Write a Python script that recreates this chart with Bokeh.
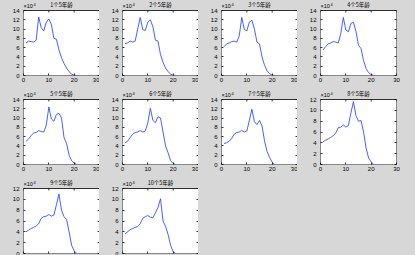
import math
from bokeh.plotting import figure
from bokeh.models import LinearAxis, Label, Range1d, FixedTicker, CustomJSTickFormatter
from bokeh.layouts import column, row
from bokeh.embed import file_html
from bokeh.resources import INLINE

# ---- data ----
x = list(range(1, 22))
s1 = [7.0, 7.4, 7.3, 7.2, 7.6, 12.6, 10.3, 9.6, 11.5, 12.2, 11.0, 8.0, 7.8, 5.5, 3.8, 2.6, 1.6, 0.8, 0.3, 0.05, 0.0]
s2 = [6.9, 7.0, 7.4, 7.2, 7.4, 10.0, 12.5, 9.9, 9.7, 11.5, 12.0, 10.5, 7.6, 7.4, 4.5, 2.8, 1.6, 0.8, 0.3, 0.05, 0.0]
s3 = [6.2, 6.8, 7.0, 7.3, 7.4, 7.2, 8.5, 12.5, 9.9, 9.6, 11.5, 11.9, 10.0, 7.2, 6.8, 4.0, 2.2, 1.0, 0.4, 0.1, 0.0]
s4 = [5.5, 6.2, 6.8, 7.0, 7.3, 7.2, 7.0, 9.0, 12.5, 9.8, 9.4, 11.2, 11.5, 9.5, 6.5, 5.8, 3.2, 1.5, 0.6, 0.2, 0.0]
s5 = [5.0, 5.5, 6.2, 6.8, 6.9, 7.3, 7.1, 7.0, 8.5, 12.4, 9.8, 9.3, 10.8, 11.0, 10.0, 5.8, 4.5, 2.0, 0.8, 0.3, 0.0]
s6 = [4.7, 5.0, 5.8, 6.5, 6.9, 7.0, 7.3, 7.0, 7.2, 9.0, 12.1, 9.5, 9.0, 10.3, 10.0, 7.0, 4.0, 2.5, 0.8, 0.2, 0.0]
s7 = [4.5, 4.7, 5.0, 5.6, 6.5, 6.9, 7.0, 7.3, 7.0, 7.2, 9.5, 11.9, 9.2, 8.6, 9.5, 8.3, 5.0, 2.8, 1.5, 0.5, 0.0]
s8 = [4.2, 4.5, 4.7, 5.0, 5.3, 5.8, 6.8, 6.9, 7.3, 6.9, 7.2, 9.5, 11.6, 9.0, 8.0, 8.1, 6.0, 3.0, 1.2, 0.5, 0.0]
s9 = [4.0, 4.3, 4.6, 4.8, 5.1, 5.5, 6.5, 6.8, 6.9, 7.2, 6.9, 7.1, 9.0, 11.0, 8.0, 6.8, 6.3, 4.0, 1.5, 0.5, 0.0]
s10 = [3.6, 4.0, 4.4, 4.6, 4.8, 5.0, 5.5, 6.5, 6.8, 7.0, 6.7, 6.6, 7.5, 8.5, 10.1, 6.0, 5.0, 3.5, 1.5, 0.3, 0.0]
series = [s1, s2, s3, s4, s5, s6, s7, s8, s9, s10]
titles = ["1个5年龄", "2个5年龄", "3个5年龄", "4个5年龄", "5个5年龄",
          "6个5年龄", "7个5年龄", "8个5年龄", "9个5年龄", "10个5年龄"]
y_max = [14, 14, 14, 14, 14, 14, 14, 12, 12, 12]
x_min, x_max = 0, 30
x_ticks = [0, 10, 20, 30]
exponent = "4"

GRAY = "#d7d7d7"
FONT = "Liberation Sans"
TS = "6px"

col_w = [99, 99, 99, 118]
col_r = [0, 0, 0, 19]
row_h = [89, 89, 77]
row_b = [14, 14, 2]
BOX_PX = 65   # height of the white axes box
PAD_PX = 10   # grey band above the box holding title and exponent

empty_fmt = CustomJSTickFormatter(code="return ''")


def make(i, c, r):
    ym = y_max[i]
    y_top = ym * (BOX_PX + PAD_PX) / BOX_PX
    p = figure(width=col_w[c], height=row_h[r], output_backend="svg", toolbar_location=None,
               x_range=Range1d(x_min, x_max), y_range=Range1d(0, y_top),
               min_border_left=23, min_border_right=col_r[c], min_border_top=0,
               min_border_bottom=row_b[r])
    p.background_fill_color = GRAY
    p.border_fill_color = GRAY
    p.outline_line_color = None
    p.grid.visible = False
    yt = list(range(0, ym + 1, 2))
    for ax in p.xaxis:
        ax.ticker = FixedTicker(ticks=x_ticks)
    for ax in p.yaxis:
        ax.ticker = FixedTicker(ticks=yt)
    p.add_layout(LinearAxis(ticker=FixedTicker(ticks=yt), formatter=empty_fmt), "right")
    for ax in p.axis:
        ax.axis_line_color = None
        ax.major_tick_in = 2
        ax.major_tick_out = 0
        ax.major_tick_line_color = "black"
        ax.major_tick_line_width = 0.8
        ax.minor_tick_line_color = None
        ax.major_label_text_font = FONT
        ax.major_label_text_font_size = TS
        ax.major_label_text_color = "black"
    p.yaxis[0].major_label_standoff = 4
    p.xaxis[0].major_label_standoff = 2
    p.right[0].major_label_standoff = 0
    if r == 2:
        p.xaxis[0].formatter = empty_fmt
        p.xaxis[0].major_label_standoff = 0
    # white axes box with black outline
    p.quad(left=[x_min], right=[x_max], bottom=[0], top=[ym], fill_color="white",
           line_color="black", line_width=0.8, level="underlay")
    # top ticks (inside the box)
    p.ray(x=x_ticks, y=[ym] * len(x_ticks), length=2, length_units="screen",
          angle=-math.pi / 2, line_color="black", line_width=0.8)
    p.line(x, series[i], line_color="#3050ff", line_width=0.9)
    p.add_layout(Label(x=(x_min + x_max) / 2, y=ym, y_offset=2, text=titles[i],
                       text_align="center", text_baseline="bottom",
                       text_font="Noto Sans CJK SC", text_font_size="5.5px",
                       text_color="black"))
    p.add_layout(Label(x=x_min, y=ym, y_offset=2, text="×10", text_align="left",
                       text_baseline="bottom", text_font=FONT, text_font_size="5.5px",
                       text_color="black"))
    p.add_layout(Label(x=x_min, y=ym, x_offset=10, y_offset=5, text=exponent,
                       text_align="left", text_baseline="bottom", text_font=FONT,
                       text_font_size="4px", text_color="black"))
    return p


def blank(c, r):
    p = figure(width=col_w[c], height=row_h[r], output_backend="svg", toolbar_location=None,
               min_border=0)
    p.background_fill_color = GRAY
    p.border_fill_color = GRAY
    p.outline_line_color = None
    p.axis.visible = False
    p.grid.visible = False
    return p


rows = []
k = 0
for r in range(3):
    cells = []
    for c in range(4):
        if k < len(series):
            cells.append(make(k, c, r))
        else:
            cells.append(blank(c, r))
        k += 1
    rows.append(row(*cells, spacing=0, styles={"background-color": GRAY}))
layout = column(*rows, spacing=0, styles={"background-color": GRAY})

open("out.html", "w").write(file_html(layout, INLINE))
